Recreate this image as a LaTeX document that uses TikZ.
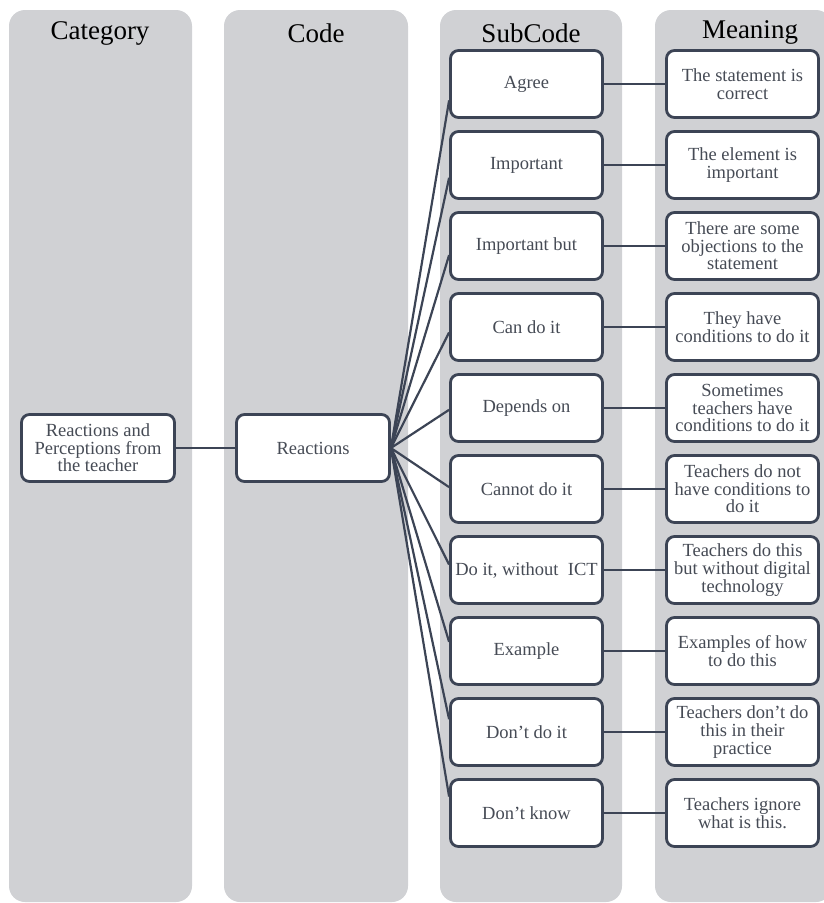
\documentclass[tikz,border=0pt]{standalone}
\usepackage{fontspec}
\setmainfont{Liberation Serif}
\usetikzlibrary{calc}
\definecolor{panel}{HTML}{D0D1D4}
\definecolor{edge}{HTML}{3C4455}
\definecolor{txt}{HTML}{464B55}
\tikzset{
  panelbox/.style={fill=panel, rounded corners=16pt},
  head/.style={font=\fontsize{27}{30}\selectfont, text=black, inner sep=0pt},
  card/.style={draw=edge, line width=2.8pt, fill=white, rounded corners=8pt,
    minimum width=152pt, minimum height=67pt, align=center, inner sep=1pt,
    font=\fontsize{18.5}{17.6}\selectfont, text=txt},
  link/.style={draw=edge, line width=2.2pt},
}
\begin{document}
\begin{tikzpicture}[x=1pt,y=-1pt]
\useasboundingbox (0,0) rectangle (824,903);
\begin{scope}
\clip (0,0) rectangle (824,903);
\fill[panelbox] (9,10) rectangle (192,902);
\fill[panelbox] (224,10) rectangle (408,902);
\fill[panelbox] (440,10) rectangle (622,902);
\fill[panelbox] (655,10) rectangle (832,902);
\end{scope}
\node[head] (hcat) at (100,33) {Category};
\node[head] (hcode) at (316,33) {Code};
\node[head] (hsub) at (531,33) {SubCode};
\node[head] (hmean) at (750,32) {Meaning};

\node[card, minimum width=153pt] (cat) at (98,448) {Reactions and\\Perceptions from\\the teacher};
\node[card, minimum width=153pt] (code) at (313,448) {Reactions};

\node[card] (s1) at (526.5,84) {Agree};
\node[card] (s2) at (526.5,165) {Important};
\node[card] (s3) at (526.5,246) {Important but};
\node[card] (s4) at (526.5,327) {Can do it};
\node[card] (s5) at (526.5,408) {Depends on};
\node[card] (s6) at (526.5,489) {Cannot do it};
\node[card] (s7) at (526.5,570) {Do it, without\ \ ICT};
\node[card] (s8) at (526.5,651) {Example};
\node[card] (s9) at (526.5,732) {Don’t do it};
\node[card] (s10) at (526.5,813) {Don’t know};

\node[card] (m1) at (742.5,84) {The statement is\\correct};
\node[card] (m2) at (742.5,165) {The element is\\important};
\node[card] (m3) at (742.5,246) {There are some\\objections to the\\statement};
\node[card] (m4) at (742.5,327) {They have\\conditions to do it};
\node[card] (m5) at (742.5,408) {Sometimes\\teachers have\\conditions to do it};
\node[card] (m6) at (742.5,489) {Teachers do not\\have conditions to\\do it};
\node[card] (m7) at (742.5,570) {Teachers do this\\but without digital\\technology};
\node[card] (m8) at (742.5,651) {Examples of how\\to do this};
\node[card] (m9) at (742.5,732) {Teachers don’t do\\this in their\\practice};
\node[card] (m10) at (742.5,813) {Teachers ignore\\what is this.};

\draw[link] (cat) -- (code);
\foreach \i in {1,...,10}{
  \draw[link] (code.east) -- ($(s\i.west)!0.045!(s\i.west |- code.east)$);
  \draw[link] (s\i) -- (m\i);
}
\end{tikzpicture}
\end{document}
